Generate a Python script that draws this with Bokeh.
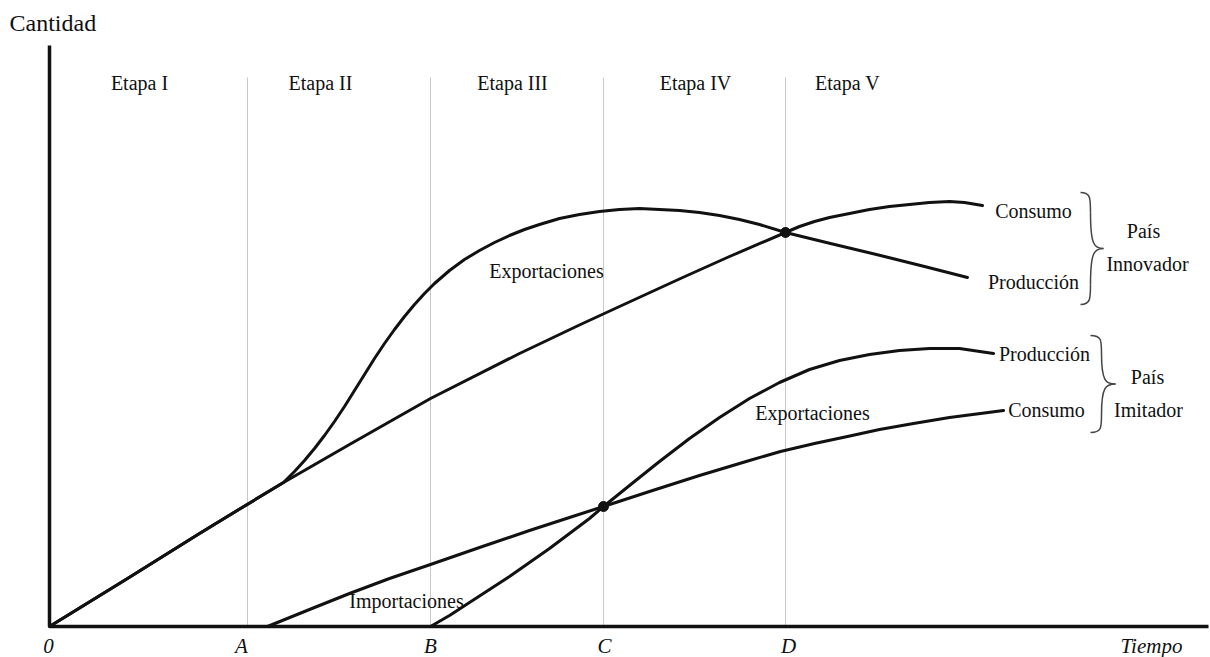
from bokeh.plotting import figure
from bokeh.models import Range1d
from bokeh.core.properties import value
from bokeh.embed import file_html
from bokeh.resources import INLINE

# ---------------- data (chart units: x = time, y = quantity) ----------------
tick_pos = [0, 198, 381, 554, 736]            # 0, A, B, C, D
tick_labels = ["0", "A", "B", "C", "D"]
tick_label_x = [-1, 192, 381, 555, 739]
time_label_x = 1102
stage_bounds = [198, 381, 554, 736]
stage_names = ["Etapa I", "Etapa II", "Etapa III", "Etapa IV", "Etapa V"]
stage_label_x = [90, 271, 463, 646, 798]

# País innovador
inn_cons_x = [0, 78, 150, 191, 234, 300, 381, 470, 531, 570, 631, 680, 736,
              750, 765, 780, 800, 820, 840, 860, 880, 900, 915, 933]
inn_cons_y = [0, 48, 93, 118, 144, 182, 228, 273, 302, 320, 348, 370, 394,
              400, 405, 409, 413, 417, 420, 422, 424, 425, 424, 421]
inn_prod_x = [0, 78, 150, 191, 234, 245, 255, 265, 275, 285, 295, 305, 315, 325, 335,
              345, 355, 365, 375, 385, 400, 415, 430, 445, 460, 475, 490, 510, 530,
              550, 570, 590, 610, 630, 650, 670, 690, 710, 736, 781, 831, 875, 918]
inn_prod_y = [0, 48, 93, 118, 144, 155, 166, 178, 191, 205, 220, 236, 252, 268, 283,
              297, 310, 322, 333, 343, 356, 367, 376, 384, 391, 397, 402, 408, 412,
              415, 417, 418, 417, 416, 414, 411, 407, 402, 394, 383, 371, 360, 349]

# País imitador
imi_cons_x = [218, 260, 300, 340, 381, 430, 480, 520, 554, 600, 650, 700, 731, 765,
              798, 830, 864, 900, 931, 954]
imi_cons_y = [0, 17, 33, 48, 62, 79, 96, 109, 120, 135, 151, 166, 175, 183,
              190, 197, 203, 209, 213, 216]
imi_prod_x = [381, 400, 420, 440, 460, 480, 500, 520, 540, 554, 580, 610, 640, 670,
              700, 730, 760, 790, 820, 850, 880, 910, 944]
imi_prod_y = [0, 11, 24, 37, 50, 64, 78, 93, 108, 120, 141, 165, 188, 209,
              228, 244, 257, 266, 272, 276, 278, 278, 273]

# intersection points (C and D)
cross_x = [554, 736]
cross_y = [120, 394]

# axis extents
y_axis_top = 581
x_axis_end = 1159
grid_top = 549

# ---------------- figure ----------------
p = figure(width=1210, height=657, x_range=Range1d(-49, 1161), y_range=Range1d(-31, 626),
           output_backend="svg", toolbar_location=None, min_border=0,
           x_axis_type=None, y_axis_type=None)
p.outline_line_color = None
p.xgrid.visible = False
p.ygrid.visible = False
p.background_fill_color = "white"

FONT = value("Liberation Serif")
INK = "#111111"

# stage separators
p.segment(x0=stage_bounds, y0=[0] * len(stage_bounds), x1=stage_bounds,
          y1=[grid_top] * len(stage_bounds), line_color="#c8c8c8", line_width=1)

# axes
p.segment(x0=[0, 0], y0=[0, 0], x1=[0, x_axis_end], y1=[y_axis_top, 0],
          line_color=INK, line_width=3.5)

# curves
for xs, ys in [(inn_cons_x, inn_cons_y), (inn_prod_x, inn_prod_y),
               (imi_cons_x, imi_cons_y), (imi_prod_x, imi_prod_y)]:
    p.line(xs, ys, line_color=INK, line_width=3, line_join="round", line_cap="round")

p.scatter(cross_x, cross_y, size=10, color=INK)

# braces
def brace(xl, xm, xt, yt, yb):
    h = yt - yb
    ym = (yt + yb) / 2
    k = 0.18 * h
    d = xt - xm
    x0 = [xl, xm, xt, xm]
    y0 = [yt, yt - k, ym, yb + k]
    x1 = [xm, xt, xm, xl]
    y1 = [yt - k, ym, yb + k, yb]
    cx0 = [xm, xm, xm + 0.3 * d, xm]
    cy0 = [yt, ym + 0.03 * h, ym, yb + 0.05 * h]
    cx1 = [xm, xm + 0.3 * d, xm, xm]
    cy1 = [yt - 0.05 * h, ym, ym - 0.03 * h, yb]
    p.bezier(x0=x0, y0=y0, x1=x1, y1=y1, cx0=cx0, cy0=cy0, cx1=cx1, cy1=cy1,
             line_color="#444444", line_width=1.5)

brace(1031, 1041, 1054, 434, 322)
brace(1041, 1052, 1066, 291, 194)

# texts
p.text(x=[-40], y=[604], text=["Cantidad"], text_font=FONT, text_font_size="24px",
       text_align="left", text_baseline="middle", text_color=INK)
p.text(x=stage_label_x, y=[544] * 5, text=stage_names, text_font=FONT, text_font_size="20px",
       text_align="center", text_baseline="middle", text_color=INK)
p.text(x=tick_label_x + [time_label_x], y=[-19] * 6, text=tick_labels + ["Tiempo"],
       text_font=FONT, text_font_size="21px", text_font_style="italic",
       text_align="center", text_baseline="middle", text_color=INK)

lab_x = [497, 763, 357, 984, 984, 1094, 1098, 995, 997, 1098, 1099]
lab_y = [356, 214, 26, 416, 345, 396, 363, 273, 217, 250, 217]
lab_t = ["Exportaciones", "Exportaciones", "Importaciones", "Consumo", "Producción",
         "País", "Innovador", "Producción", "Consumo", "País", "Imitador"]
p.text(x=lab_x, y=lab_y, text=lab_t, text_font=FONT, text_font_size="20px",
       text_align="center", text_baseline="middle", text_color=INK)

open("out.html", "w").write(file_html(p, INLINE))
